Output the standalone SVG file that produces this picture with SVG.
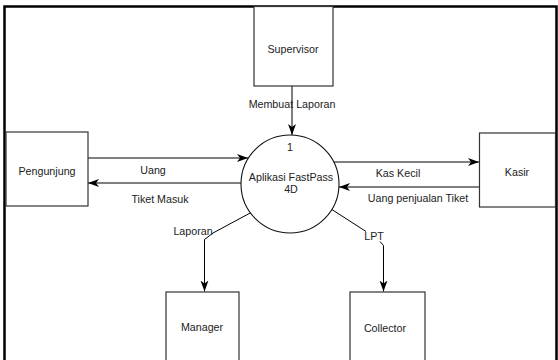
<svg xmlns="http://www.w3.org/2000/svg" width="558" height="360" viewBox="0 0 558 360">
  <defs>
    <marker id="arrow" markerWidth="12" markerHeight="9" refX="11" refY="4" orient="auto" markerUnits="userSpaceOnUse">
      <path d="M0,0 L11,4 L0,8 L3,4 Z" fill="#000"/>
    </marker>
    <style>
      .box { fill: #fff; stroke: #333; stroke-width: 1.2; }
      .proc { fill: #fff; stroke: #111; stroke-width: 1.1; }
      .flow { fill: none; stroke: #000; stroke-width: 1; }
      .lbl { font-family: "Liberation Sans", Arial, sans-serif; font-size: 10.7px; fill: #222; text-anchor: middle; }
      .frame { fill: none; stroke: #000; stroke-width: 2.5; }
    </style>
  </defs>

  <rect width="558" height="360" fill="#fff"/>

  <!-- outer frame -->
  <path class="frame" d="M4.5,362 V6.5 H556.5 V362"/>

  <!-- data flows -->
  <g id="connectors">
    <path class="flow" d="M292,86 V135" marker-end="url(#arrow)"/>
    <path class="flow" d="M88,158 H248" marker-end="url(#arrow)"/>
    <path class="flow" d="M241,183 H88" marker-end="url(#arrow)"/>
    <path class="flow" d="M333,162 H479" marker-end="url(#arrow)"/>
    <path class="flow" d="M479,187 H339" marker-end="url(#arrow)"/>
    <path class="flow" d="M252,212 L213,233 L204.5,239.5 V291.5" marker-end="url(#arrow)"/>
    <path class="flow" d="M328,207 L366,231.5 M380,241.5 L383.5,245.5 V291.5" marker-end="url(#arrow)"/>

    <text class="lbl" x="292" y="108">Membuat Laporan</text>
    <text class="lbl" x="153" y="174">Uang</text>
    <text class="lbl" x="160" y="203">Tiket Masuk</text>
    <text class="lbl" x="398" y="177">Kas Kecil</text>
    <text class="lbl" x="418" y="202">Uang penjualan Tiket</text>
    <text class="lbl" x="193" y="235">Laporan</text>
    <text class="lbl" x="374" y="240">LPT</text>
  </g>

  <!-- process -->
  <g id="process-1">
    <circle class="proc" cx="290" cy="184" r="49"/>
    <text class="lbl" x="290" y="151">1</text>
    <text class="lbl" x="291" y="181">Aplikasi FastPass</text>
    <text class="lbl" x="291" y="193">4D</text>
  </g>

  <!-- external entities -->
  <g id="supervisor">
    <rect class="box" x="254" y="6.5" width="79" height="79.5"/>
    <text class="lbl" x="293" y="53">Supervisor</text>
  </g>
  <g id="pengunjung">
    <rect class="box" x="6" y="132" width="82" height="74"/>
    <text class="lbl" x="47" y="175">Pengunjung</text>
  </g>
  <g id="kasir">
    <rect class="box" x="479.5" y="133" width="76" height="74"/>
    <text class="lbl" x="517" y="176">Kasir</text>
  </g>
  <g id="manager">
    <rect class="box" x="166" y="292" width="73" height="80"/>
    <text class="lbl" x="202" y="331">Manager</text>
  </g>
  <g id="collector">
    <rect class="box" x="350" y="292" width="75" height="80"/>
    <text class="lbl" x="385" y="332">Collector</text>
  </g>
</svg>
